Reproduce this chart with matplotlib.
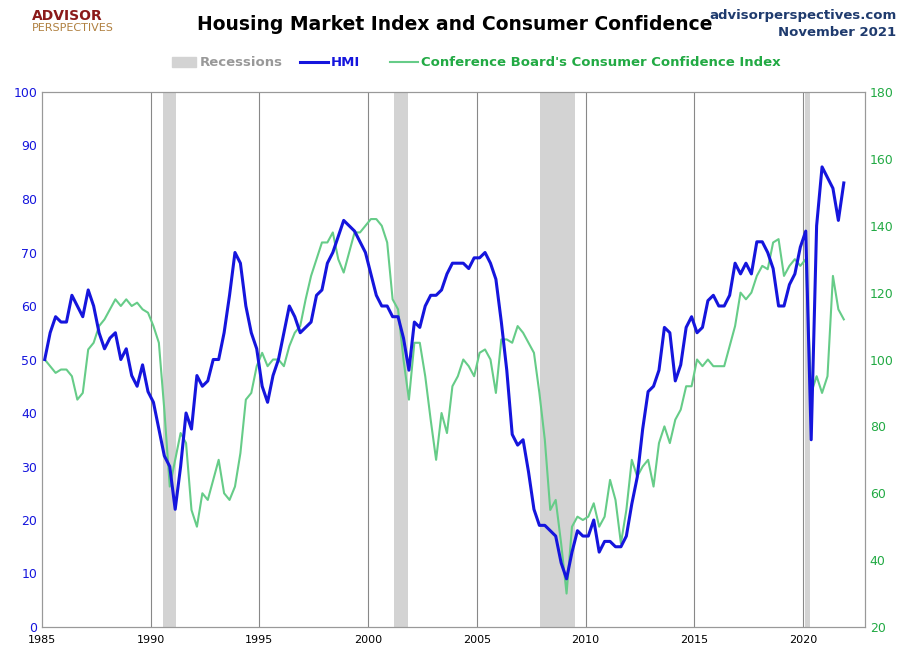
import matplotlib.pyplot as plt
import numpy as np

years = np.arange(1985, 2022)
hmi = [50, 55, 58, 57, 57, 62, 60, 58, 63, 60, 55, 52, 54, 55, 50, 52,
       47, 45, 49, 44, 42, 37, 32, 30, 22, 30, 40, 37, 47, 45, 46, 50,
       50, 55, 62, 70, 68, 60, 55, 52, 45, 42, 47, 50, 55, 60, 58, 55,
       56, 57, 62, 63, 68, 70, 73, 76, 75, 74, 72, 70, 66, 62, 60, 60,
       58, 58, 54, 48, 57, 56, 60, 62, 62, 63, 66, 68, 68, 68, 67, 69,
       69, 70, 68, 65, 57, 48, 36, 34, 35, 29, 22, 19, 19, 18, 17, 12,
       9, 14, 18, 17, 17, 20, 14, 16, 16, 15, 15, 17, 23, 28, 37, 44,
       45, 48, 56, 55, 46, 49, 56, 58, 55, 56, 61, 62, 60, 60, 62, 68,
       66, 68, 66, 72, 72, 70, 67, 60, 60, 64, 66, 71, 74, 35, 75, 86,
       84, 82, 76, 83]
cci = [100, 98, 96, 97, 97, 95, 88, 90, 103, 105, 110, 112, 115, 118, 116, 118,
       116, 117, 115, 114, 110, 105, 85, 62, 70, 78, 75, 55, 50, 60, 58, 64,
       70, 60, 58, 62, 72, 88, 90, 98, 102, 98, 100, 100, 98, 104, 108, 110,
       118, 125, 130, 135, 135, 138, 130, 126, 132, 138, 138, 140, 142, 142, 140, 135,
       118, 115, 100, 88, 105, 105, 95, 82, 70, 84, 78, 92, 95, 100, 98, 95,
       102, 103, 100, 90, 106, 106, 105, 110, 108, 105, 102, 90, 76, 55, 58, 45,
       30, 50, 53, 52, 53, 57, 50, 53, 64, 58, 45, 55, 70, 65, 68, 70,
       62, 75, 80, 75, 82, 85, 92, 92, 100, 98, 100, 98, 98, 98, 104, 110,
       120, 118, 120, 125, 128, 127, 135, 136, 125, 128, 130, 128, 130, 90, 95, 90,
       95, 125, 115, 112]
recessions = [(1990.58, 1991.17), (2001.17, 2001.83), (2007.92, 2009.5), (2020.08, 2020.33)]

t = 1985 + np.arange(len(hmi)) * 0.25 + 0.125

fig = plt.figure(figsize=(9.1, 6.61), dpi=100)
ax = fig.add_axes([42/910, 1-627/661, (865-42)/910, (627-92)/661])
ax2 = ax.twinx()

for a, b in recessions:
    ax2.axvspan(a, b, color='#d3d3d3', lw=0, zorder=0)
for y in range(1990, 2025, 5):
    ax2.axvline(y, color='#888888', lw=0.8, zorder=0)

ax2.plot(t, cci, color='#66cc88', lw=1.5, zorder=1)
ax.plot(t, hmi, color='#1515dd', lw=2.2, zorder=2)
ax.set_zorder(ax2.get_zorder() + 1)
ax.patch.set_visible(False)

ax.set_xlim(1985, 2022.85)
ax.set_ylim(0, 100)
ax2.set_ylim(20, 180)
ax.set_xticks(range(1985, 2021, 5))
ax.set_yticks(range(0, 101, 10))
ax2.set_yticks(range(20, 181, 20))
ax.tick_params(axis='x', labelsize=8, length=0, pad=6)
ax.tick_params(axis='y', labelsize=9, colors='#1515dd', length=0)
ax2.tick_params(axis='y', labelsize=9, colors='#22aa44', length=0)
for a in (ax, ax2):
    for s in a.spines.values():
        s.set_color('#999999')

fig.text(455/910, 1-25/661, 'Housing Market Index and Consumer Confidence', ha='center', va='center',
         fontsize=13.5, fontweight='bold')
fig.text(0.985, 1-15/661, 'advisorperspectives.com', ha='right', va='center', fontsize=9.5,
         fontweight='bold', color='#1f3b6e')
fig.text(0.985, 1-33/661, 'November 2021', ha='right', va='center', fontsize=9.5,
         fontweight='bold', color='#1f3b6e')
fig.text(0.035, 1-16/661, 'ADVISOR', fontsize=10, fontweight='bold', color='#8b1a1a', va='center')
fig.text(0.035, 1-28/661, 'PERSPECTIVES', fontsize=8, color='#b08040', va='center')

# legend
ly = 1 - 62/661
fig.patches.append(plt.Rectangle((172/910, ly-0.008), 24/910, 0.016, transform=fig.transFigure,
                                 color='#d3d3d3'))
fig.text(200/910, ly, 'Recessions', fontsize=9.5, fontweight='bold', color='#999999', va='center')
fig.lines.append(plt.Line2D([300/910, 328/910], [ly, ly], transform=fig.transFigure,
                            color='#1515dd', lw=2.2))
fig.text(331/910, ly, 'HMI', fontsize=9.5, fontweight='bold', color='#1515dd', va='center')
fig.lines.append(plt.Line2D([390/910, 418/910], [ly, ly], transform=fig.transFigure,
                            color='#66cc88', lw=1.5))
fig.text(421/910, ly, "Conference Board's Consumer Confidence Index", fontsize=9.5,
         fontweight='bold', color='#22aa44', va='center')

fig.savefig('out.png', dpi=100, facecolor='white')
